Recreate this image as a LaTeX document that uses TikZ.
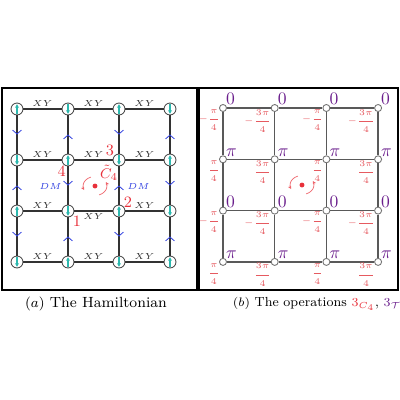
\documentclass[tikz,border=0pt]{standalone}
\usepackage{amsmath,amssymb}
\usepackage{xcolor}
\usetikzlibrary{arrows.meta,positioning,calc,decorations.markings}

\definecolor{spinteal}{HTML}{2CB8AE}
\definecolor{dmblue}{HTML}{2F3FE0}
\definecolor{numred}{HTML}{E8303A}
\definecolor{fracred}{HTML}{E65A60}
\definecolor{phasepurple}{HTML}{6A1E8C}

\tikzset{
  spin/.style={circle,draw=black!70,fill=white,line width=0.5pt,minimum size=6.8pt,inner sep=0pt},
  spinarrow/.style={spinteal,line width=0.6pt,-{Stealth[length=2pt,width=2.2pt]}},
  bond/.style={black!80,line width=0.75pt},
  dmbond/.style={bond,postaction={decorate},
    decoration={markings,mark=at position 0.5 with {\arrow[dmblue,line width=0.45pt]{Straight Barb[length=2.2pt,width=5pt]}}}},
  xylab/.style={font=\tiny,inner sep=0.8pt},
  dmlab/.style={font=\tiny,text=dmblue,inner sep=0pt},
  numlab/.style={font=\small,text=numred,inner sep=0pt},
  rotdot/.style={circle,fill=numred,minimum size=2.8pt,inner sep=0pt},
  rotarrow/.style={numred!75,line width=0.4pt,-{Stealth[length=2pt,width=2pt]}},
  site/.style={circle,draw=black!55,fill=white,line width=0.5pt,minimum size=4pt,inner sep=0pt},
  sitebond/.style={black!65,line width=0.8pt},
  phaselab/.style={font=\normalsize,text=phasepurple,inner sep=0pt},
  fraclab/.style={font=\tiny,text=fracred,inner sep=0pt},
  panel/.style={line width=0.75pt},
  caption/.style={font=\fontsize{8.4}{10}\selectfont},
  smallcaption/.style={font=\fontsize{7.5}{9}\selectfont}
}

\begin{document}
\begin{tikzpicture}[x=0.02cm,y=-0.02cm]
  \useasboundingbox (0,0) rectangle (400,400);
  \draw[panel] (2,88) rectangle (197,290);
  \draw[panel] (199,88) rectangle (398,290);

  % (a) spins
  \foreach \r in {0,...,3}{
    \foreach \c in {0,...,3}{
      \node[spin] (s\r\c) at (17+51*\c,109+51*\r) {};
      \pgfmathtruncatemacro{\isUp}{ifthenelse(mod(\r+\c,2)==0,1,0)}
      \ifnum\isUp=1
        \draw[spinarrow] ([yshift=-2.7pt]s\r\c.center) -- ([yshift=2.7pt]s\r\c.center);
      \else
        \draw[spinarrow] ([yshift=2.7pt]s\r\c.center) -- ([yshift=-2.7pt]s\r\c.center);
      \fi
    }
  }
  \foreach \r in {0,...,3}{
    \foreach \c in {0,1,2}{
      \pgfmathtruncatemacro{\n}{\c+1}
      \pgfmathtruncatemacro{\isBelow}{ifthenelse(\r==2 && \c==1,1,0)}
      \ifnum\isBelow=1
        \draw[bond] (s\r\c) -- node[xylab,below] {$XY$} (s\r\n);
      \else
        \draw[bond] (s\r\c) -- node[xylab,above] {$XY$} (s\r\n);
      \fi
    }
  }
  \foreach \c in {0,...,3}{
    \foreach \r in {0,1,2}{
      \pgfmathtruncatemacro{\n}{\r+1}
      \pgfmathtruncatemacro{\isDown}{ifthenelse(mod(\r+\c,2)==0,1,0)}
      \ifnum\isDown=1
        \draw[dmbond] (s\r\c) -- (s\n\c);
      \else
        \draw[dmbond] (s\n\c) -- (s\r\c);
      \fi
    }
  }
  \node[dmlab,anchor=east] (dmleft) at ($(s11)!0.5!(s21)+(-6,1)$) {$DM$};
  \node[dmlab,anchor=west] (dmright) at ($(s12)!0.5!(s22)+(8,1)$) {$DM$};
  \node[numlab,below left=0.5pt and -1.5pt of s11] (n4) {4};
  \node[numlab,above left=-0.5pt and 0pt of s12] (n3) {3};
  \node[numlab,above right=-1pt and 0pt of s22] (n2) {2};
  \node[numlab,below right=0pt and 0pt of s21] (n1) {1};

  \node[rotdot] (rota) at (95,186) {};
  \node[numlab,font=\footnotesize] (c4lab) at (109,173) {$\tilde{C}_4$};
  \draw[rotarrow] ([shift={(110:6.8pt and 5.4pt)}]rota.center) arc[start angle=110,end angle=205,x radius=6.8pt,y radius=5.4pt];
  \draw[rotarrow] ([shift={(290:6.8pt and 5.4pt)}]rota.center) arc[start angle=290,end angle=385,x radius=6.8pt,y radius=5.4pt];

  % (b) phases
  \foreach \r in {0,...,3}{
    \foreach \c in {0,...,3}{
      \node[site] (p\r\c) at (223+51.7*\c,108+51.3*\r) {};
    }
  }
  \foreach \r in {0,...,3}{
    \foreach \c in {0,1,2}{
      \pgfmathtruncatemacro{\n}{\c+1}
      \draw[sitebond] (p\r\c) -- (p\r\n);
      \draw[sitebond] (p\c\r) -- (p\n\r);
    }
  }
  \foreach \r in {0,...,3}{
    \foreach \c in {0,...,3}{
      \pgfmathtruncatemacro{\oddRow}{mod(\r,2)}
      \pgfmathtruncatemacro{\oddCol}{mod(\c,2)}
      \ifnum\oddRow=1
        \node[phaselab,above right=0pt of p\r\c] (ph\r\c) {$\pi$};
        \ifnum\oddCol=1
          \node[fraclab,below left=-1pt and 0pt of p\r\c] (fr\r\c) {$\dfrac{3\pi}{4}$};
        \else
          \node[fraclab,below left=-1pt and 0pt of p\r\c] (fr\r\c) {$\dfrac{\pi}{4}$};
        \fi
      \else
        \node[phaselab,above right=0pt of p\r\c] (ph\r\c) {$0$};
        \ifnum\oddCol=1
          \node[fraclab,below left=-1pt and 0pt of p\r\c] (fr\r\c) {$-\dfrac{3\pi}{4}$};
        \else
          \node[fraclab,below left=-1pt and 0pt of p\r\c] (fr\r\c) {$-\dfrac{\pi}{4}$};
        \fi
      \fi
    }
  }
  \node[rotdot] (rotb) at (302,185) {};
  \draw[rotarrow] ([shift={(110:6.8pt and 5.4pt)}]rotb.center) arc[start angle=110,end angle=205,x radius=6.8pt,y radius=5.4pt];
  \draw[rotarrow] ([shift={(290:6.8pt and 5.4pt)}]rotb.center) arc[start angle=290,end angle=385,x radius=6.8pt,y radius=5.4pt];

  \node[caption] (capa) at (96,304) {$(a)$ The Hamiltonian};
  \node[smallcaption] (capb) at (317,304) {$(b)$ The operations \textcolor{numred}{$3_{C_4}$}, \textcolor{phasepurple}{$3_{\mathcal{T}}$}};
\end{tikzpicture}
\end{document}
